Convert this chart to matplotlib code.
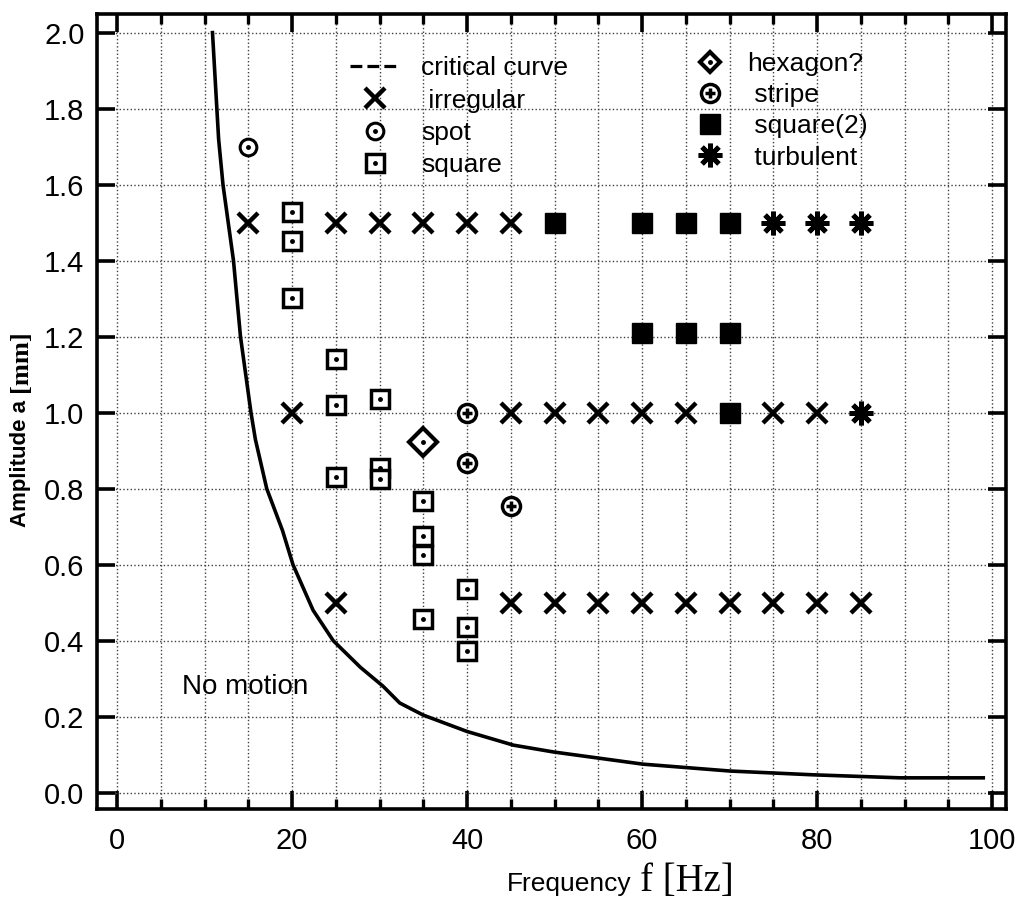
import numpy as np
import matplotlib
matplotlib.use("Agg")
import matplotlib.pyplot as plt
from matplotlib.lines import Line2D

plt.rcParams['font.family'] = ['Liberation Sans', 'DejaVu Sans']

# critical curve
crit_f = [10.9, 11.6, 12.1, 13.3, 14.1, 15.3, 15.8, 17.1, 18.9, 20.1, 22.4, 24.7, 27.8,
          30.4, 32.3, 35.0, 40.0, 45.3, 49.9, 60.1, 70.0, 79.5, 89.5, 99.0]
crit_a = [2.0, 1.72, 1.60, 1.40, 1.20, 1.00, 0.93, 0.80, 0.69, 0.60, 0.48, 0.40, 0.33,
          0.28, 0.236, 0.204, 0.161, 0.125, 0.107, 0.075, 0.057, 0.047, 0.039, 0.039]

# observed patterns
irr_f = [15, 25, 30, 35, 40, 45, 20, 45, 50, 55, 60, 65, 75, 80,
         25, 45, 50, 55, 60, 65, 70, 75, 80, 85]
irr_a = [1.5, 1.5, 1.5, 1.5, 1.5, 1.5, 1.0, 1.0, 1.0, 1.0, 1.0, 1.0, 1.0, 1.0,
         0.5, 0.5, 0.5, 0.5, 0.5, 0.5, 0.5, 0.5, 0.5, 0.5]
spot_f = [15]
spot_a = [1.70]
sq_f = [20, 20, 20, 25, 25, 25, 30, 30, 30, 35, 35, 35, 35, 40, 40, 40]
sq_a = [1.528, 1.451, 1.302, 1.141, 1.020, 0.830, 1.036, 0.854, 0.826,
        0.768, 0.676, 0.626, 0.457, 0.536, 0.435, 0.373]
hex_f = [35]
hex_a = [0.924]
stripe_f = [40, 40, 45]
stripe_a = [1.0, 0.867, 0.755]
sq2_f = [50, 60, 65, 70, 60, 65, 70, 70]
sq2_a = [1.5, 1.5, 1.5, 1.5, 1.21, 1.21, 1.21, 1.0]
turb_f = [75, 80, 85, 85]
turb_a = [1.5, 1.5, 1.5, 1.0]

fig = plt.figure(figsize=(10.28, 8.98), dpi=100)
ax = fig.add_axes([97/1028, 1-809/898, 909/1028, 795/898])

ax.plot(crit_f, crit_a, color='black', lw=2.6, zorder=3, solid_joinstyle='round')

h_irr, = ax.plot(irr_f, irr_a, ls='none', marker='x', ms=15, mew=3.2, color='black', zorder=4)

h_spot = ax.plot(spot_f, spot_a, ls='none', marker='o', ms=12, mfc='white', mec='black', mew=2.2, zorder=4)[0]
d_spot = ax.plot(spot_f, spot_a, ls='none', marker='o', ms=2.5, color='black', zorder=5)[0]

h_sq = ax.plot(sq_f, sq_a, ls='none', marker='s', ms=13, mfc='white', mec='black', mew=2.5, zorder=4)[0]
d_sq = ax.plot(sq_f, sq_a, ls='none', marker='o', ms=2.5, color='black', zorder=5)[0]

ax.plot(hex_f, hex_a, ls='none', marker='D', ms=14, mfc='white', mec='black', mew=3, zorder=4)
d_hex = ax.plot(hex_f, hex_a, ls='none', marker='o', ms=2.5, color='black', zorder=5)[0]

h_str = ax.plot(stripe_f, stripe_a, ls='none', marker='o', ms=13, mfc='white', mec='black', mew=2.5, zorder=4)[0]
p_str = ax.plot(stripe_f, stripe_a, ls='none', marker='+', ms=7, mew=2.5, color='black', zorder=5)[0]

h_sq2, = ax.plot(sq2_f, sq2_a, ls='none', marker='s', ms=14, color='black', zorder=4)
h_turb, = ax.plot(turb_f, turb_a, ls='none', marker=(8, 2, 0), ms=17, mew=3.5, color='black', zorder=4)

ax.set_xlim(-2.3, 101.6)
ax.set_ylim(-0.043, 2.049)
ax.set_xticks(np.arange(0, 101, 20))
ax.set_xticks(np.arange(0, 101, 5), minor=True)
ax.set_yticks(np.arange(0, 2.01, 0.2))
ax.set_yticklabels(['%.1f' % v for v in np.arange(0, 2.01, 0.2)])
ax.grid(True, which='both', axis='x', ls=':', lw=1, color='0.25')
ax.grid(True, which='major', axis='y', ls=':', lw=1, color='0.25')
ax.set_axisbelow(True)
ax.tick_params(which='major', direction='in', length=13, width=2.6, top=True, right=True,
               labelsize=21, pad=9)
ax.tick_params(axis='x', which='major', pad=13)
ax.tick_params(which='minor', direction='in', length=7, width=2.4, top=True, right=True)
for s in ax.spines.values():
    s.set_linewidth(2.6)

ax.text(7.4, 0.278, 'No motion', fontsize=20, ha='left', va='center')

# legend proxies
crit_proxy = Line2D([], [], color='black', ls='--', lw=2.3)
hex_proxy = Line2D([], [], ls='none', marker='D', ms=10, mfc='white', mec='black', mew=3)
hex_dot = Line2D([], [], ls='none', marker='o', ms=2.5, color='black')

leg1 = ax.legend([crit_proxy, h_irr, (h_spot, d_spot), (h_sq, d_sq)],
                 ['critical curve', ' irregular', 'spot', 'square'],
                 loc='upper left', bbox_to_anchor=(0.278, 0.947), frameon=False,
                 fontsize=19, handlelength=1.9, handletextpad=0.8, labelspacing=0.32,
                 borderpad=0, borderaxespad=0)
ax.add_artist(leg1)
ax.legend([(hex_proxy, hex_dot), (h_str, p_str), h_sq2, h_turb],
          ['hexagon?', ' stripe', ' square(2)', ' turbulent'],
          loc='upper left', bbox_to_anchor=(0.66, 0.952), frameon=False,
          fontsize=19, handlelength=1.0, handletextpad=0.9, labelspacing=0.27,
          borderpad=0, borderaxespad=0)

fig.text(0.493, 0.008, 'Frequency', fontsize=19, ha='left', va='baseline')
fig.text(0.6226, 0.008, 'f [Hz]', fontsize=28, ha='left', va='baseline', family='Liberation Serif')

yl = fig.text(0.020, 1-527/898, 'Amplitude a', fontsize=16, fontweight='bold', rotation=90,
              ha='center', va='bottom')
ax.annotate('[mm]', xy=(0.5, 1.0), xycoords=yl, xytext=(0, 6), textcoords='offset points',
            fontsize=19, fontweight='bold', family='Liberation Serif', rotation=90,
            ha='center', va='bottom')

fig.savefig('out.png', dpi=100)
